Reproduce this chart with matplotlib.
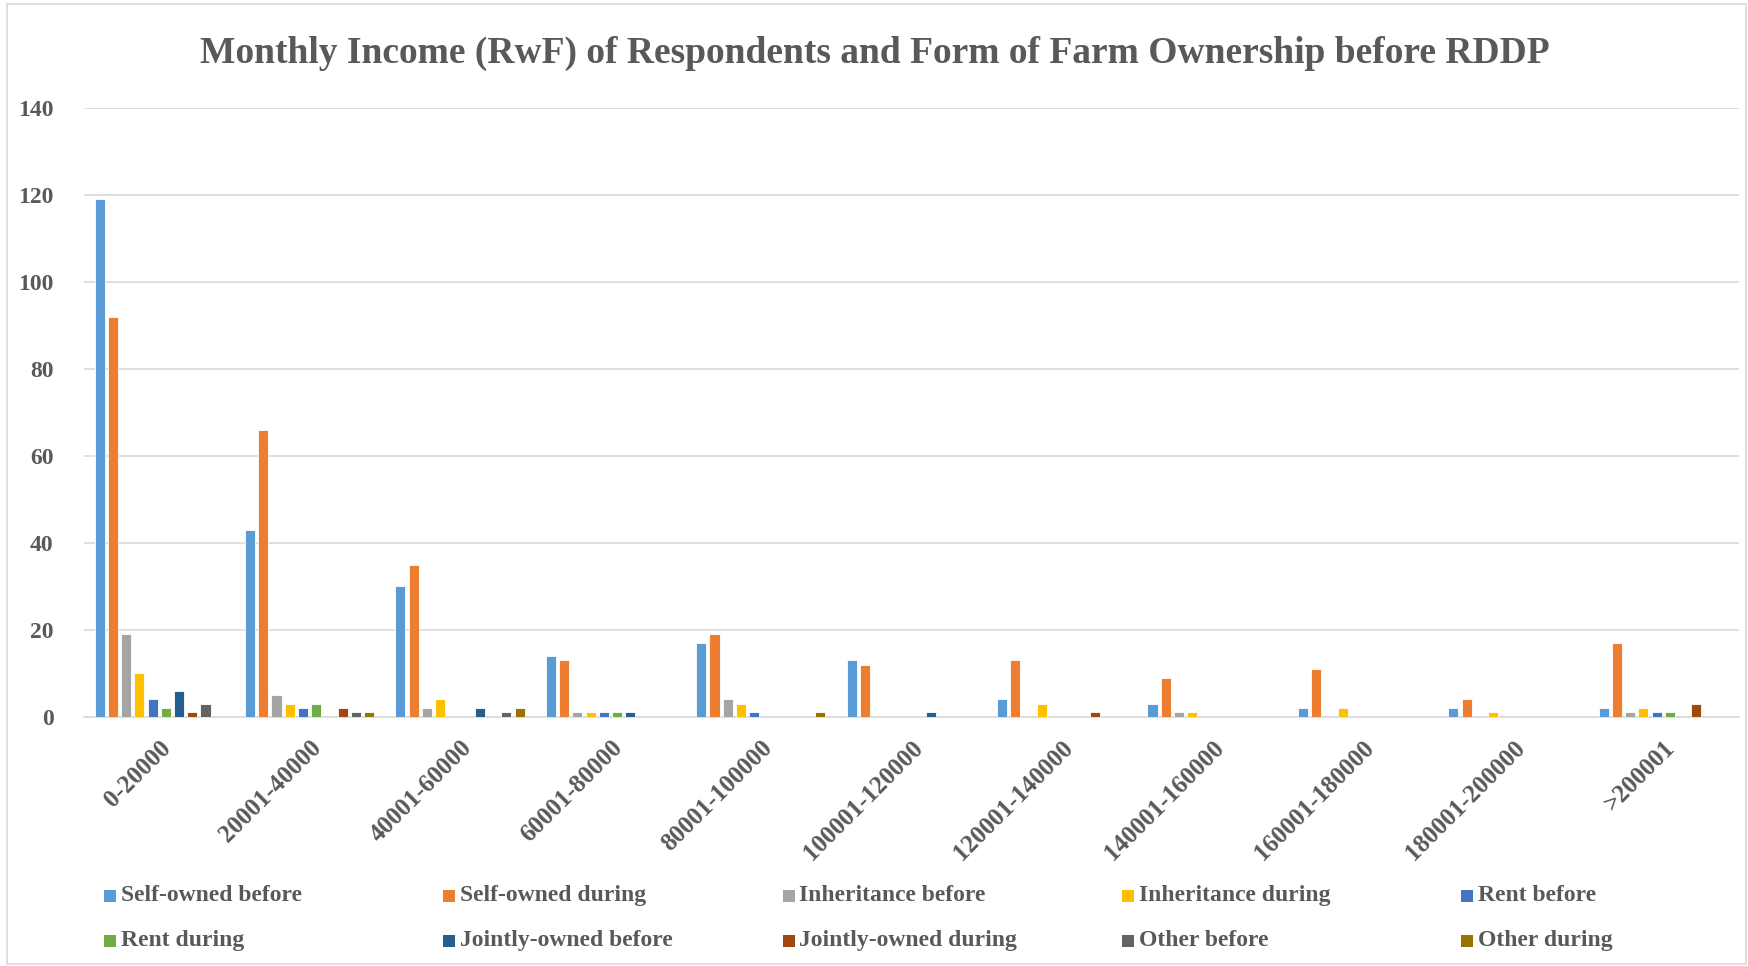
import numpy as np
import matplotlib
matplotlib.use('Agg')
import matplotlib.pyplot as plt
from matplotlib.patches import Rectangle
matplotlib.rcParams["font.family"] = "serif"
matplotlib.rcParams["font.serif"] = ["Liberation Serif", "DejaVu Serif"]
matplotlib.rcParams["font.weight"] = "bold"

categories = ['0-20000', '20001-40000', '40001-60000', '60001-80000', '80001-100000',
              '100001-120000', '120001-140000', '140001-160000', '160001-180000',
              '180001-200000', '>200001']
series = ['Self-owned before', 'Self-owned during', 'Inheritance before', 'Inheritance during',
          'Rent before', 'Rent during', 'Jointly-owned before', 'Jointly-owned during',
          'Other before', 'Other during']
self_before = [119, 43, 30, 14, 17, 13, 4, 3, 2, 2, 2]
self_during = [92, 66, 35, 13, 19, 12, 13, 9, 11, 4, 17]
inh_before = [19, 5, 2, 1, 4, 0, 0, 1, 0, 0, 1]
inh_during = [10, 3, 4, 1, 3, 0, 3, 1, 2, 1, 2]
rent_before = [4, 2, 0, 1, 1, 0, 0, 0, 0, 0, 1]
rent_during = [2, 3, 0, 1, 0, 0, 0, 0, 0, 0, 1]
joint_before = [6, 0, 2, 1, 0, 1, 0, 0, 0, 0, 0]
joint_during = [1, 2, 0, 0, 0, 0, 1, 0, 0, 0, 3]
other_before = [3, 1, 1, 0, 0, 0, 0, 0, 0, 0, 0]
other_during = [0, 1, 2, 0, 1, 0, 0, 0, 0, 0, 0]
values = [self_before, self_during, inh_before, inh_during, rent_before,
          rent_during, joint_before, joint_during, other_before, other_during]
colors = ['#5B9BD5', '#ED7D31', '#A5A5A5', '#FFC000', '#4472C4',
          '#70AD47', '#255E91', '#9E480E', '#636363', '#997300']
txtcol = '#595959'

fig = plt.figure(figsize=(17.49, 9.66), dpi=100)
ax = fig.add_axes([0.048, 0.258, 0.946, 0.63])

x = np.arange(len(categories))
slot = 0.088
w = 0.067
for i, (vals, c) in enumerate(zip(values, colors)):
    ax.bar(x + (i - 4.5) * slot, vals, width=w, color=c, edgecolor='white', linewidth=0.6, zorder=3)

ax.set_xlim(-0.5, len(categories) - 0.5)
ax.set_ylim(0, 140)
ax.set_yticks(np.arange(0, 141, 20))
ax.yaxis.grid(True, color='#D9D9D9', linewidth=1.2, zorder=0)
for s in ['top', 'right', 'left']:
    ax.spines[s].set_visible(False)
ax.spines['bottom'].set_color('#D9D9D9')
ax.spines['bottom'].set_linewidth(1.2)
ax.tick_params(axis='y', length=0, labelsize=17, colors=txtcol, pad=22)
ax.tick_params(axis='x', length=0, labelsize=18, colors=txtcol, pad=14)
ax.set_xticks(x)
ax.set_xticklabels(categories, rotation=45, ha='right', rotation_mode='anchor')
for lab in ax.get_xticklabels() + ax.get_yticklabels():
    lab.set_fontweight('bold')
    lab.set_color(txtcol)

fig.text(0.5, 0.945, 'Monthly Income (RwF) of Respondents and Form of Farm Ownership before RDDP',
         ha='center', va='center', fontsize=27, fontweight='bold', color=txtcol)

# legend, laid out row by row like the original
for i, (name, c) in enumerate(zip(series, colors)):
    col, row = i % 5, i // 5
    lx = 0.0595 + col * 0.194
    ly = 0.0725 - row * 0.0466
    fig.patches.append(Rectangle((lx, ly - 0.0062), 0.0069, 0.0124, transform=fig.transFigure,
                                 facecolor=c, edgecolor='none'))
    fig.text(lx + 0.0096, ly, name, ha='left', va='center', fontsize=17,
             fontweight='bold', color=txtcol)

fig.patches.append(Rectangle((0.004, 0.002), 0.994, 0.994, transform=fig.transFigure,
                             facecolor='none', edgecolor='#D9D9D9', linewidth=1.2))

fig.savefig('out.png', dpi=100)
